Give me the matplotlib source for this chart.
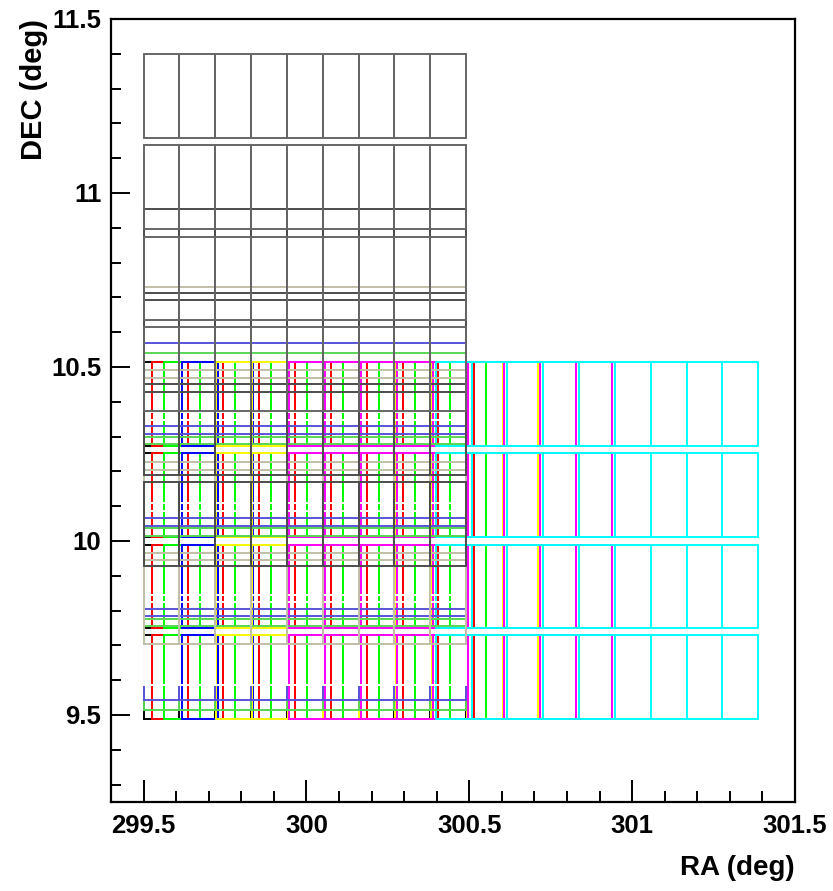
import matplotlib
matplotlib.use('Agg')
import matplotlib.pyplot as plt
from matplotlib.patches import Rectangle
from matplotlib.ticker import MultipleLocator

# one entry per pointing, drawn in this order (later ones paint over earlier ones)
ra0 = [299.500, 299.525, 299.562, 299.617, 299.722, 299.947, 300.397,
       299.500, 299.500, 299.500, 299.500, 299.500, 299.500]
dec_top = [10.514, 10.514, 10.514, 10.514, 10.514, 10.514, 10.514,
           10.540, 10.569, 10.610, 10.730, 10.954, 11.399]
colors = ['#000000', '#ff0000', '#00ff00', '#0000ff', '#ffff00', '#ff00ff', '#00ffff',
          '#59d454', '#5954d9', '#ffffff', '#c2bfa8', '#4c4c4c', '#666666']

# CCD layout of a single pointing: 9 columns x 4 rows
n_cols = 9
ccd_w = 0.11
ccd_h = 0.24
row_offsets = [0.0, 0.262, 0.525, 0.785]

x_ticks = [299.5, 300, 300.5, 301, 301.5]
x_labels = ['299.5', '300', '300.5', '301', '301.5']
y_ticks = [9.5, 10, 10.5, 11, 11.5]
y_labels = ['9.5', '10', '10.5', '11', '11.5']

plt.rcParams['font.family'] = ['Liberation Sans', 'DejaVu Sans']
plt.rcParams['font.weight'] = 'bold'

fig = plt.figure(figsize=(8.33, 8.91), dpi=100)
ax = fig.add_axes([0.1333, 0.0999, 0.8211, 0.8788])

for i in range(len(ra0)):
    for off in row_offsets:
        top = dec_top[i] - off
        for c in range(n_cols):
            ax.add_patch(Rectangle((ra0[i] + c * ccd_w, top - ccd_h), ccd_w, ccd_h,
                                   fill=False, edgecolor=colors[i], lw=1.4,
                                   zorder=2 + i * 0.01))

ax.set_xlim(299.4, 301.5)
ax.set_ylim(9.25, 11.5)

ax.set_xticks(x_ticks)
ax.set_xticklabels(x_labels)
ax.set_yticks(y_ticks)
ax.set_yticklabels(y_labels)
ax.xaxis.set_minor_locator(MultipleLocator(0.1))
ax.yaxis.set_minor_locator(MultipleLocator(0.1))

ax.tick_params(which='both', direction='in', top=False, right=False, width=1.4)
ax.tick_params(axis='x', which='major', length=16, pad=9, labelsize=18.5)
ax.tick_params(axis='x', which='minor', length=8)
ax.tick_params(axis='y', which='major', length=14, pad=7, labelsize=18.5)
ax.tick_params(axis='y', which='minor', length=7)

for s in ax.spines.values():
    s.set_linewidth(1.6)

ax.set_xlabel('RA (deg)', loc='right', fontsize=20, fontweight='bold', labelpad=12)
ax.set_ylabel('DEC (deg)', loc='top', fontsize=21, fontweight='bold', labelpad=2)

fig.savefig('out.png', dpi=100)
